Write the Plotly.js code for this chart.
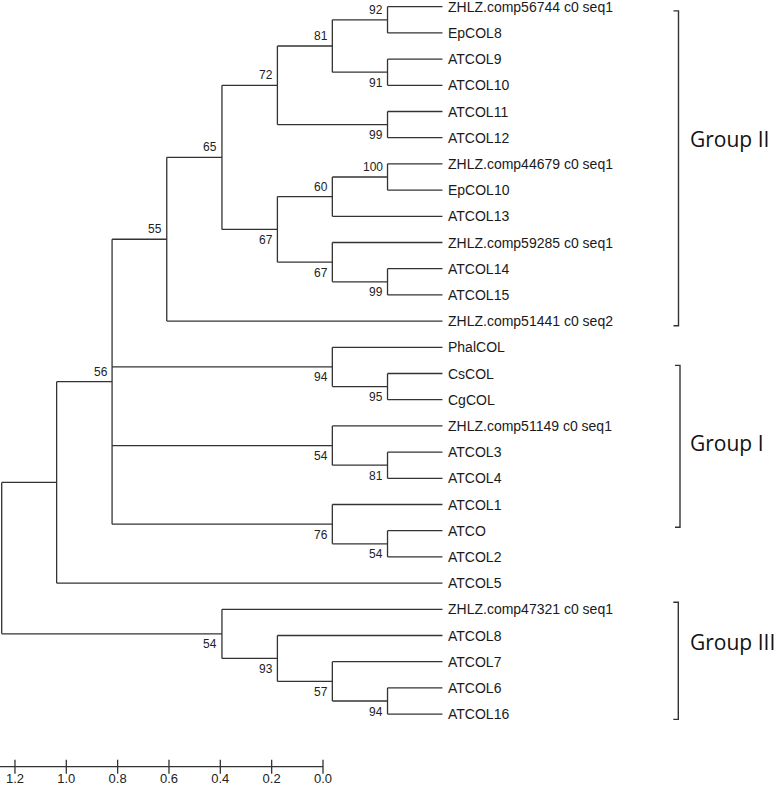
<!DOCTYPE html>
<html><head><meta charset="utf-8">
<script src="https://cdn.plot.ly/plotly-3.0.1.min.js"></script>
<style>html,body{margin:0;padding:0;background:#fff}#chart{width:777px;height:786px}</style>
</head><body><div id="chart"></div>
<script>
// ---------------- DATA ----------------
const leafNames = [
  'ZHLZ.comp56744 c0 seq1','EpCOL8','ATCOL9','ATCOL10','ATCOL11','ATCOL12',
  'ZHLZ.comp44679 c0 seq1','EpCOL10','ATCOL13','ZHLZ.comp59285 c0 seq1','ATCOL14','ATCOL15',
  'ZHLZ.comp51441 c0 seq2','PhalCOL','CsCOL','CgCOL','ZHLZ.comp51149 c0 seq1','ATCOL3',
  'ATCOL4','ATCOL1','ATCO','ATCOL2','ATCOL5','ZHLZ.comp47321 c0 seq1','ATCOL8','ATCOL7',
  'ATCOL6','ATCOL16'
];
const leafDepth = 1.717;   // distance of tips from root (scale units)

const nodeIds = ['n0','n1','n2','n3','n4','n5','n6','n7','n8','n9','n10','n11','n12',
  'n13','n14','n15','n16','n17','n18','n19','n20','n21','n22','n23','n24'];
const nodeChildren = [
  [0,1],[2,3],['n0','n1'],[4,5],['n2','n3'],[6,7],['n5',8],[10,11],[9,'n7'],['n6','n8'],
  ['n4','n9'],['n10',12],[14,15],[13,'n12'],[17,18],[16,'n14'],[20,21],[19,'n16'],
  ['n11','n13','n15','n17'],['n18',22],[26,27],[25,'n20'],[24,'n21'],[23,'n22'],['n19','n23']
];
const nodeDepth = [1.503,1.503,1.288,1.503,1.074,1.503,1.288,1.503,1.288,1.074,
  0.858,0.643,1.503,1.288,1.503,1.288,1.503,1.288,0.43,0.214,1.503,1.288,1.074,0.858,0];
const nodeSupport = [92,91,81,99,72,100,60,99,67,67,65,55,95,94,81,54,54,76,56,null,94,57,93,54,null];

const groupNames = ['Group II','Group I','Group III'];
const groupFirstRow = [0.16, 13.69, 22.73];
const groupLastRow  = [12.18, 19.87, 27.2];
const groupLabelRow = [5.04, 16.65, 24.26];

const scaleTickValues = [1.2,1.0,0.8,0.6,0.4,0.2,0.0];
const scaleTickLabels = ['1.2','1.0','0.8','0.6','0.4','0.2','0.0'];

// ---------------- GEOMETRY / STYLE ----------------
const W = 777, H = 786;
const PXU = 256.7;        // pixels per scale unit
const ROOT_PX = 1.7;
const ROW0_PX = 6.7, ROW_PX = 26.2;
const SCALE_ZERO_PX = 323;
const SCALE_BAR_PY = 766.7, SCALE_LABEL_PY = 780;
const dx = px => px / PXU;
const dy = py => py / ROW_PX;
const pyRow = py => (py - ROW0_PX) / ROW_PX;
const LINE = '#333333';
const ARIAL = 'Arial, "Liberation Sans", sans-serif';
const groupBracketPx = [678.5, 680, 678.3];

// ---------------- BUILD TREE ----------------
const idx = {}; nodeIds.forEach((id,i)=>idx[id]=i);
const nodeY = new Array(nodeIds.length);
const yOf = c => typeof c === 'number' ? c : nodeY[idx[c]];
const depthOf = c => typeof c === 'number' ? leafDepth : nodeDepth[idx[c]];
nodeChildren.forEach((ch,i)=>{ nodeY[i] = (yOf(ch[0]) + yOf(ch[ch.length-1]))/2; });

const lx = [], ly = [];
nodeChildren.forEach((ch,i)=>{
  const d = nodeDepth[i];
  lx.push(d, d, null); ly.push(yOf(ch[0]), yOf(ch[ch.length-1]), null);
  ch.forEach(c=>{ lx.push(d, depthOf(c), null); ly.push(yOf(c), yOf(c), null); });
});

// parent lookup for label side
const firstChild = {};
nodeChildren.forEach(ch=>{ ch.forEach((c,k)=>{ if(typeof c !== 'number') firstChild[c] = (k===0); }); });

const annotations = [];
nodeSupport.forEach((s,i)=>{
  if (s === null) return;
  const above = firstChild[nodeIds[i]];
  annotations.push({
    x: nodeDepth[i] - dx(3.5), y: nodeY[i] + (above ? -dy(10) : dy(10.5)),
    xref:'x', yref:'y', text: String(s), showarrow:false, xanchor:'right', yanchor:'middle',
    borderpad:0, font:{family:ARIAL, size:12, color:'#222'}
  });
});
leafNames.forEach((n,i)=>{
  annotations.push({
    x: leafDepth + dx(4.5), y: i, xref:'x', yref:'y', text:n, showarrow:false,
    xanchor:'left', yanchor:'middle', borderpad:0, font:{family:ARIAL, size:14, color:'#1a1a1a'}
  });
});

const bx = [], by = [];
groupNames.forEach((g,i)=>{
  const x = (groupBracketPx[i] - ROOT_PX)/PXU;
  bx.push(x - dx(5), x, x, x - dx(5), null);
  by.push(groupFirstRow[i], groupFirstRow[i], groupLastRow[i], groupLastRow[i], null);
  annotations.push({
    x: (689 - ROOT_PX)/PXU, y: groupLabelRow[i], xref:'x', yref:'y', text:g, showarrow:false,
    xanchor:'left', yanchor:'middle', borderpad:0, font:{family:'"Open Sans", sans-serif', size:21, color:'#111'}
  });
});

const scaleRow = pyRow(SCALE_BAR_PY);
const traces = [
  {x:lx, y:ly, mode:'lines', line:{color:LINE, width:1.3}, xaxis:'x', yaxis:'y', hoverinfo:'skip'},
  {x:bx, y:by, mode:'lines', line:{color:LINE, width:1.4}, xaxis:'x', yaxis:'y', hoverinfo:'skip'},
  {x:[SCALE_ZERO_PX/PXU, 0], y:[scaleRow, scaleRow], mode:'lines', line:{color:LINE, width:1.3},
   xaxis:'x2', yaxis:'y', hoverinfo:'skip'},
  {x:scaleTickValues, y:scaleTickValues.map(()=>scaleRow), mode:'markers',
   marker:{symbol:'line-ns', size:10, line:{color:LINE, width:1.3}}, xaxis:'x2', yaxis:'y', hoverinfo:'skip'},
  {x:scaleTickValues, y:scaleTickValues.map(()=>pyRow(SCALE_LABEL_PY)), mode:'text', text:scaleTickLabels,
   textposition:'middle center', textfont:{family:ARIAL, size:13, color:'#222'}, xaxis:'x2', yaxis:'y', hoverinfo:'skip'}
];

const layout = {
  width:W, height:H, margin:{l:0,r:0,t:0,b:0}, showlegend:false,
  paper_bgcolor:'#fff', plot_bgcolor:'#fff',
  xaxis:{range:[(0-ROOT_PX)/PXU, (W-ROOT_PX)/PXU], visible:false, fixedrange:true},
  xaxis2:{range:[SCALE_ZERO_PX/PXU, (SCALE_ZERO_PX-W)/PXU], overlaying:'x', visible:false, fixedrange:true},
  yaxis:{range:[pyRow(H), pyRow(0)], visible:false, fixedrange:true},
  annotations: annotations, hovermode:false
};
Plotly.newPlot('chart', traces, layout, {staticPlot:true, displayModeBar:false});
</script></body></html>
